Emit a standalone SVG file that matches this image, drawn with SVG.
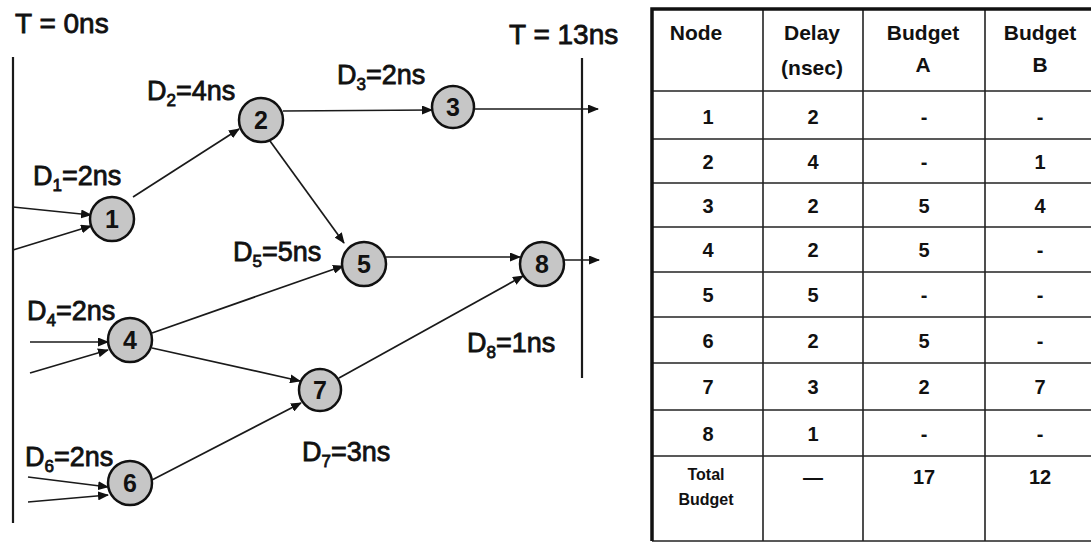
<svg xmlns="http://www.w3.org/2000/svg" width="1091" height="543" viewBox="0 0 1091 543">
  <style>
    .lbl { font-family: "Liberation Sans", Arial, sans-serif; font-size: 27px; fill: #111; stroke: #111; stroke-width: 0.8px; }
    .big { font-size: 28px; }
    .sub { font-size: 17px; }
    .node circle { fill: #c6c6c6; stroke: #111; stroke-width: 2.5px; }
    .node text { font-family: "Liberation Sans", Arial, sans-serif; font-size: 25px; font-weight: bold; fill: #111; text-anchor: middle; }
    .edge { stroke: #1a1a1a; stroke-width: 1.7px; fill: none; marker-end: url(#arrow); }
    .bar { stroke: #1a1a1a; stroke-width: 2.2px; }
    .grid { stroke: #222; stroke-width: 1.6px; }
    .frame { stroke: #111; stroke-width: 3.5px; fill: none; }
    .cell { font-family: "Liberation Sans", Arial, sans-serif; font-size: 20px; font-weight: bold; fill: #111; text-anchor: middle; }
    .head { font-size: 21px; }
    .cell-sm { font-family: "Liberation Sans", Arial, sans-serif; font-size: 16px; font-weight: bold; fill: #111; text-anchor: middle; }
  </style>
  <defs>
    <marker id="arrow" markerUnits="userSpaceOnUse" markerWidth="11" markerHeight="9" refX="10" refY="4.5" orient="auto">
      <path d="M0,0 L11,4.5 L0,9 Z" fill="#111"/>
    </marker>
  </defs>

  <rect width="1091" height="543" fill="#ffffff"/>

  <!-- time boundaries -->
  <g id="time-bounds">
    <line class="bar" x1="13" y1="57" x2="13" y2="523"/>
    <line class="bar" x1="582" y1="58" x2="582" y2="378"/>
    <text class="lbl big" x="15" y="33">T = 0ns</text>
    <text class="lbl big" x="509" y="44">T = 13ns</text>
  </g>

  <!-- connectors -->
  <g id="connectors">
    <line class="edge" x1="13" y1="207" x2="91" y2="215"/>
    <line class="edge" x1="13" y1="250" x2="91" y2="226"/>
    <line class="edge" x1="133" y1="197" x2="239" y2="129"/>
    <line class="edge" x1="283" y1="111" x2="432" y2="110"/>
    <line class="edge" x1="270" y1="141" x2="344" y2="243"/>
    <line class="edge" x1="475" y1="109" x2="598" y2="109"/>
    <line class="edge" x1="30" y1="342" x2="108" y2="342"/>
    <line class="edge" x1="30" y1="373" x2="108" y2="350"/>
    <line class="edge" x1="152" y1="333" x2="343" y2="266"/>
    <line class="edge" x1="152" y1="348" x2="300" y2="381"/>
    <line class="edge" x1="386" y1="257" x2="520" y2="257"/>
    <line class="edge" x1="339" y1="378" x2="523" y2="276"/>
    <line class="edge" x1="564" y1="260" x2="599" y2="260"/>
    <line class="edge" x1="28" y1="477" x2="108" y2="487"/>
    <line class="edge" x1="28" y1="502" x2="108" y2="495"/>
    <line class="edge" x1="152" y1="480" x2="301" y2="403"/>
  </g>

  <!-- nodes -->
  <g id="node-1" class="node"><circle cx="112" cy="219" r="22"/><text x="112" y="228">1</text></g>
  <g id="node-2" class="node"><circle cx="261" cy="120" r="22"/><text x="261" y="129">2</text></g>
  <g id="node-3" class="node"><circle cx="453" cy="107" r="21"/><text x="453" y="116">3</text></g>
  <g id="node-4" class="node"><circle cx="130" cy="340" r="22"/><text x="130" y="349">4</text></g>
  <g id="node-5" class="node"><circle cx="364" cy="264" r="22"/><text x="364" y="273">5</text></g>
  <g id="node-6" class="node"><circle cx="130" cy="483" r="22"/><text x="130" y="492">6</text></g>
  <g id="node-7" class="node"><circle cx="320" cy="390" r="21"/><text x="320" y="399">7</text></g>
  <g id="node-8" class="node"><circle cx="542" cy="264" r="22"/><text x="542" y="273">8</text></g>

  <!-- delay labels -->
  <g id="delay-labels">
    <text class="lbl" x="33" y="185">D<tspan class="sub" dy="6">1</tspan><tspan dy="-6">=2ns</tspan></text>
    <text class="lbl" x="147" y="100">D<tspan class="sub" dy="6">2</tspan><tspan dy="-6">=4ns</tspan></text>
    <text class="lbl" x="337" y="84">D<tspan class="sub" dy="6">3</tspan><tspan dy="-6">=2ns</tspan></text>
    <text class="lbl" x="27" y="320">D<tspan class="sub" dy="6">4</tspan><tspan dy="-6">=2ns</tspan></text>
    <text class="lbl" x="233" y="261">D<tspan class="sub" dy="6">5</tspan><tspan dy="-6">=5ns</tspan></text>
    <text class="lbl" x="25" y="466">D<tspan class="sub" dy="6">6</tspan><tspan dy="-6">=2ns</tspan></text>
    <text class="lbl" x="302" y="461">D<tspan class="sub" dy="6">7</tspan><tspan dy="-6">=3ns</tspan></text>
    <text class="lbl" x="467" y="352">D<tspan class="sub" dy="6">8</tspan><tspan dy="-6">=1ns</tspan></text>
  </g>

  <!-- budget table -->
  <g id="budget-table">
    <g id="table-grid">
      <line class="grid" x1="652" y1="91" x2="1091" y2="91"/>
      <line class="grid" x1="652" y1="139" x2="1091" y2="139"/>
      <line class="grid" x1="652" y1="183" x2="1091" y2="183"/>
      <line class="grid" x1="652" y1="227" x2="1091" y2="227"/>
      <line class="grid" x1="652" y1="272" x2="1091" y2="272"/>
      <line class="grid" x1="652" y1="317" x2="1091" y2="317"/>
      <line class="grid" x1="652" y1="363" x2="1091" y2="363"/>
      <line class="grid" x1="652" y1="410" x2="1091" y2="410"/>
      <line class="grid" x1="652" y1="456" x2="1091" y2="456"/>
      <line class="grid" x1="652" y1="541" x2="1091" y2="541"/>
      <line class="grid" x1="763" y1="9" x2="763" y2="541"/>
      <line class="grid" x1="863" y1="9" x2="863" y2="541"/>
      <line class="grid" x1="985" y1="9" x2="985" y2="541"/>
      <path class="frame" d="M1091,9 H652 V541"/>
    </g>
    <g id="table-header">
      <text class="cell head" x="696" y="40">Node</text>
      <text class="cell head" x="812" y="40">Delay</text>
      <text class="cell head" x="812" y="75">(nsec)</text>
      <text class="cell head" x="923" y="40">Budget</text>
      <text class="cell head" x="923" y="72">A</text>
      <text class="cell head" x="1040" y="40">Budget</text>
      <text class="cell head" x="1040" y="72">B</text>
    </g>
    <g id="table-rows">
      <text class="cell" x="708" y="124">1</text><text class="cell" x="813" y="124">2</text><text class="cell" x="924" y="124">-</text><text class="cell" x="1040" y="124">-</text>
      <text class="cell" x="708" y="169">2</text><text class="cell" x="813" y="169">4</text><text class="cell" x="924" y="169">-</text><text class="cell" x="1040" y="169">1</text>
      <text class="cell" x="708" y="213">3</text><text class="cell" x="813" y="213">2</text><text class="cell" x="924" y="213">5</text><text class="cell" x="1040" y="213">4</text>
      <text class="cell" x="708" y="257">4</text><text class="cell" x="813" y="257">2</text><text class="cell" x="924" y="257">5</text><text class="cell" x="1040" y="257">-</text>
      <text class="cell" x="708" y="302">5</text><text class="cell" x="813" y="302">5</text><text class="cell" x="924" y="302">-</text><text class="cell" x="1040" y="302">-</text>
      <text class="cell" x="708" y="348">6</text><text class="cell" x="813" y="348">2</text><text class="cell" x="924" y="348">5</text><text class="cell" x="1040" y="348">-</text>
      <text class="cell" x="708" y="394">7</text><text class="cell" x="813" y="394">3</text><text class="cell" x="924" y="394">2</text><text class="cell" x="1040" y="394">7</text>
      <text class="cell" x="708" y="441">8</text><text class="cell" x="813" y="441">1</text><text class="cell" x="924" y="441">-</text><text class="cell" x="1040" y="441">-</text>
      <text class="cell-sm" x="706" y="480">Total</text>
      <text class="cell-sm" x="706" y="505">Budget</text>
      <text class="cell" x="813" y="484">—</text>
      <text class="cell" x="924" y="484">17</text>
      <text class="cell" x="1040" y="484">12</text>
    </g>
  </g>
</svg>
